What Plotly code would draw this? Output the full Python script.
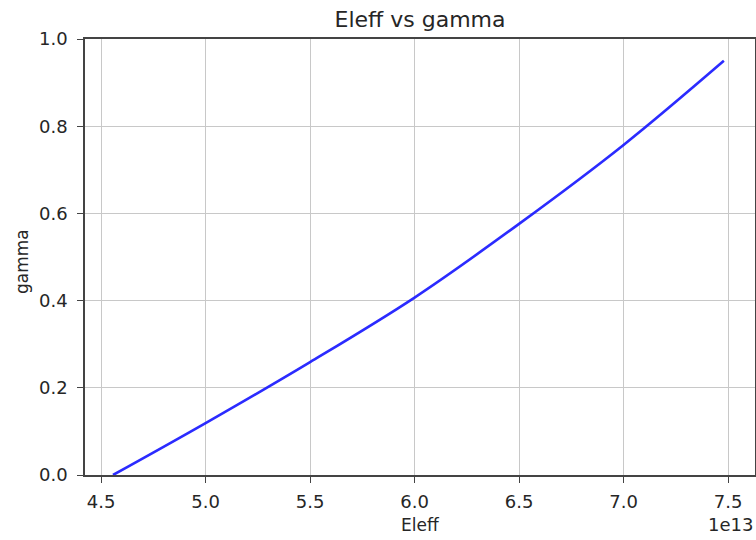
import plotly.graph_objects as go

# Data
eleff = [4.557e13, 5.0e13, 5.5e13, 6.0e13, 6.5e13, 7.0e13, 7.48e13]
gamma = [0.0, 0.119, 0.259, 0.407, 0.576, 0.757, 0.950]

x_tick_vals = [4.5e13, 5.0e13, 5.5e13, 6.0e13, 6.5e13, 7.0e13, 7.5e13]
x_tick_text = ["4.5", "5.0", "5.5", "6.0", "6.5", "7.0", "7.5"]
y_tick_vals = [0.0, 0.2, 0.4, 0.6, 0.8, 1.0]
y_tick_text = ["0.0", "0.2", "0.4", "0.6", "0.8", "1.0"]

FONT = "DejaVu Sans"
TXT = "#262626"

W, H = 756, 540
L, R, T, B = 85, 1, 39, 65
PW, PH = W - L - R, H - T - B

fig = go.Figure()
fig.add_trace(go.Scatter(
    x=eleff, y=gamma, mode="lines",
    line=dict(color="rgba(25,25,255,0.92)", width=2.6, shape="spline", smoothing=1.0),
    showlegend=False,
))

axis_common = dict(
    showline=True, linecolor="#444444", linewidth=1.5, mirror=True,
    showgrid=True, gridcolor="#c8c8c8", gridwidth=1.3,
    ticks="outside", ticklen=6, tickwidth=1.3, tickcolor="#444444",
    tickfont=dict(family=FONT, size=18, color=TXT),
    zeroline=False,
)

fig.update_layout(
    width=W, height=H,
    margin=dict(l=L, r=R, t=T, b=B, autoexpand=False),
    paper_bgcolor="white", plot_bgcolor="white",
    title=dict(text="Eleff vs gamma", x=(L + PW / 2) / W, xanchor="center",
               y=1 - 19 / H, yanchor="middle", yref="container",
               font=dict(family=FONT, size=22, color=TXT)),
    xaxis=dict(range=[4.423e13, 7.629e13], tickvals=x_tick_vals, ticktext=x_tick_text,
               ticklabelstandoff=4, **axis_common),
    yaxis=dict(range=[0, 1], tickvals=y_tick_vals, ticktext=y_tick_text,
               ticklabelstandoff=6, **axis_common),
    annotations=[
        dict(text="Eleff", x=0.5, y=-(50) / PH, xref="paper", yref="paper",
             xanchor="center", yanchor="middle", showarrow=False,
             font=dict(family=FONT, size=17, color=TXT)),
        dict(text="gamma", x=-(85 - 22) / PW, y=0.5 - 5 / PH, xref="paper", yref="paper",
             xanchor="center", yanchor="middle", showarrow=False, textangle=-90,
             font=dict(family=FONT, size=17, color=TXT)),
        dict(text="1e13", x=1.0, y=-(49) / PH, xref="paper", yref="paper",
             xanchor="right", yanchor="middle", showarrow=False,
             font=dict(family=FONT, size=18, color=TXT)),
    ],
)

fig.write_html(
    "out.html",
    config={"displayModeBar": False},
    post_script="document.body.style.margin='0';document.body.style.overflow='hidden';",
)
